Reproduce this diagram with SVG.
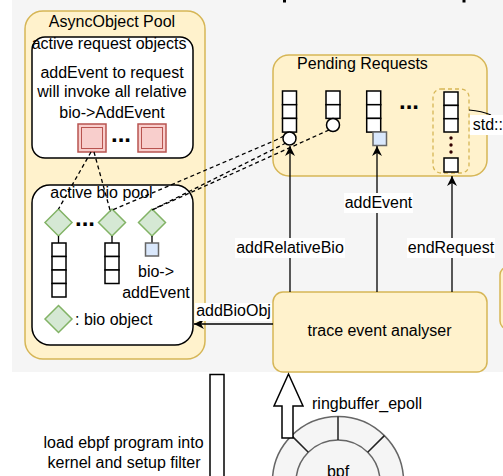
<svg xmlns="http://www.w3.org/2000/svg" width="503" height="476" viewBox="0 0 503 476">
<style>
text{font-family:"Liberation Sans",Arial,sans-serif;font-size:16px;fill:#000}
.c{text-anchor:middle}
.dots{font-size:24px;font-weight:bold}
.yel{fill:#fff2cc;stroke:#d6b656;stroke-width:1.5}
.box{fill:#fff;stroke:#000;stroke-width:1.5}
.cell{fill:#fff;stroke:#000;stroke-width:1.5}
.dia{fill:#d5e8d4;stroke:#82b366;stroke-width:1.5}
.blue{fill:#dae8fc;stroke:#666;stroke-width:1.5}
.pink{fill:#f8cecc;stroke:#b85450;stroke-width:1.5}
.pinki{fill:none;stroke:#b85450;stroke-width:1}
.dash{fill:none;stroke:#000;stroke-width:1.3;stroke-dasharray:4 3}
.arrow{fill:none;stroke:#000;stroke-width:1.3;marker-end:url(#arr)}
.lbg{fill:#fff}
.ring{fill:#f5f5f5;stroke:#666;stroke-width:1.5}
</style>
<defs>
<marker id="arr" viewBox="0 0 10 10" refX="10" refY="5" markerWidth="10" markerHeight="10" markerUnits="userSpaceOnUse" orient="auto"><path d="M0,0 L10,5 L0,10 L3,5 z" fill="#000"/></marker>
</defs>
<rect x="0" y="0" width="503" height="476" fill="#fff"/>
<rect x="12" y="-5" width="495" height="377" fill="#f5f5f5"/>
<rect x="283" y="0" width="3" height="2.5" fill="#000"/>
<rect x="462.5" y="0" width="3" height="2.5" fill="#000"/>

<g id="async-object-pool">
<rect class="yel" x="25" y="11" width="180" height="348" rx="18"/>
<text class="c" x="112" y="27">AsyncObject Pool</text>
</g>

<g id="active-request-objects">
<rect class="box" x="32" y="37" width="161" height="121" rx="13"/>
<text class="c" x="109" y="49">active request objects</text>
<text class="c" x="112" y="78">addEvent to request</text>
<text class="c" x="112" y="97">will invoke all relative</text>
<text class="c" x="112" y="118">bio-&gt;AddEvent</text>
<rect class="pink" x="78" y="124" width="28" height="28"/>
<rect class="pinki" x="81.5" y="127.5" width="21" height="21"/>
<text class="dots" x="111" y="142">...</text>
<rect class="pink" x="138" y="124" width="28" height="28"/>
<rect class="pinki" x="141.5" y="127.5" width="21" height="21"/>
</g>

<g id="active-bio-pool">
<rect class="box" x="32" y="185" width="161" height="160" rx="18"/>
<text class="c" x="101.5" y="198">active bio pool</text>
<polygon class="dia" points="58.5,209 72,222.5 58.5,236 45,222.5"/>
<text class="dots" x="75" y="226">...</text>
<polygon class="dia" points="112,209 125.5,222.5 112,236 98.5,222.5"/>
<polygon class="dia" points="152,209 165.5,222.5 152,236 138.5,222.5"/>
<path d="M58.5,236V243M112,236V243M152,236V243" stroke="#000" stroke-width="1.3"/>
<rect class="cell" x="52" y="243" width="14" height="13.5"/>
<rect class="cell" x="52" y="256.5" width="14" height="13.5"/>
<rect class="cell" x="52" y="270" width="14" height="13.5"/>
<rect class="cell" x="52" y="283.5" width="14" height="13.5"/>
<rect class="cell" x="105" y="243" width="14" height="13.5"/>
<rect class="cell" x="105" y="256.5" width="14" height="13.5"/>
<rect class="cell" x="105" y="270" width="14" height="13.5"/>
<rect class="blue" x="145.5" y="243" width="13" height="13"/>
<text class="c" x="156" y="277">bio-&gt;</text>
<text class="c" x="156" y="298">addEvent</text>
<polygon class="dia" points="58.5,305.5 72,319 58.5,332.5 45,319"/>
<text x="75" y="325">: bio object</text>
</g>

<g id="pending-requests">
<rect class="yel" x="273" y="55" width="214" height="121" rx="16"/>
<text class="c" x="362.5" y="69">Pending Requests</text>
<rect class="cell" x="282.5" y="91" width="14" height="13.7"/>
<rect class="cell" x="282.5" y="104.7" width="14" height="13.7"/>
<rect class="cell" x="282.5" y="118.4" width="14" height="13.7"/>
<circle class="cell" cx="289.5" cy="138.5" r="6.5"/>
<rect class="cell" x="326" y="91" width="14" height="13.7"/>
<rect class="cell" x="326" y="104.7" width="14" height="13.7"/>
<circle class="cell" cx="333" cy="125" r="6.5"/>
<rect class="cell" x="366.7" y="91" width="14" height="13.7"/>
<rect class="cell" x="366.7" y="104.7" width="14" height="13.7"/>
<rect class="cell" x="366.7" y="118.4" width="14" height="13.7"/>
<rect class="blue" x="373" y="132" width="13.5" height="13.5"/>
<text class="dots" x="399" y="108.5">...</text>
<rect x="433" y="89" width="36" height="84" rx="8" fill="none" stroke="#d6b656" stroke-width="1.3" stroke-dasharray="4 3"/>
<rect class="cell" x="444" y="92" width="14" height="13.4"/>
<rect class="cell" x="444" y="105.4" width="14" height="13.3"/>
<rect class="cell" x="444" y="118.7" width="14" height="13.3"/>
<circle cx="451" cy="138" r="1.7" fill="#300"/>
<circle cx="451" cy="145" r="1.7" fill="#300"/>
<circle cx="451" cy="152" r="1.7" fill="#300"/>
<rect class="cell" x="444" y="158" width="14" height="14"/>
</g>

<g id="trace-event-analyser">
<rect class="yel" x="273" y="292" width="214" height="80" rx="10"/>
<text class="c" x="379.5" y="336">trace event analyser</text>
</g>

<g id="right-node">
<rect class="yel" x="500" y="267" width="30" height="62" rx="8"/>
</g>

<g id="bpf">
<circle class="ring" cx="338" cy="482" r="65.6"/>
<circle class="ring" cx="338" cy="482" r="42"/>
<path d="M338,416.4V440M384.4,435.6L367.7,452.3M291.6,435.6L308.3,452.3" stroke="#222" stroke-width="1.5"/>
<text class="c" x="338" y="477">bpf</text>
</g>

<g id="load-ebpf">
<rect x="210" y="374.5" width="14" height="110" fill="#fff" stroke="#000" stroke-width="1.5"/>
<text class="c" x="123.5" y="448">load ebpf program into</text>
<text class="c" x="124" y="468">kernel and setup filter</text>
</g>

<g id="connectors">
<path class="dash" d="M91,152L58.5,209"/>
<path class="dash" d="M94,152L110,210"/>
<path class="dash" d="M284,136Q280,138 276,140L110,211"/>
<path class="dash" d="M286,143L152,210"/>
<path class="dash" d="M329,130L152,210"/>
<path class="arrow" d="M290,292V146"/>
<path class="arrow" d="M377,292V146"/>
<path class="arrow" d="M452,292V176"/>
<path class="arrow" d="M273,324H194"/>
<rect class="lbg" x="235" y="238" width="110" height="20"/>
<text class="c" x="290" y="253">addRelativeBio</text>
<rect class="lbg" x="344" y="193" width="69" height="20"/>
<text class="c" x="378.5" y="208">addEvent</text>
<rect class="lbg" x="407" y="238" width="88" height="20"/>
<text class="c" x="451" y="253">endRequest</text>
<rect class="lbg" x="195" y="303" width="77" height="18"/>
<text class="c" x="233.5" y="316">addBioObj</text>
<path d="M469,110Q482,111 491,115" fill="none" stroke="#000" stroke-width="1.2"/>
<rect class="lbg" x="470" y="115" width="40" height="20"/>
<text x="472.7" y="130">std::</text>
<polygon points="288.5,374 303,406 293,406 293,438 282,438 282,406 274,406" fill="#fff" stroke="#000" stroke-width="1.5"/>
<text x="312" y="409">ringbuffer_epoll</text>
</g>
</svg>
